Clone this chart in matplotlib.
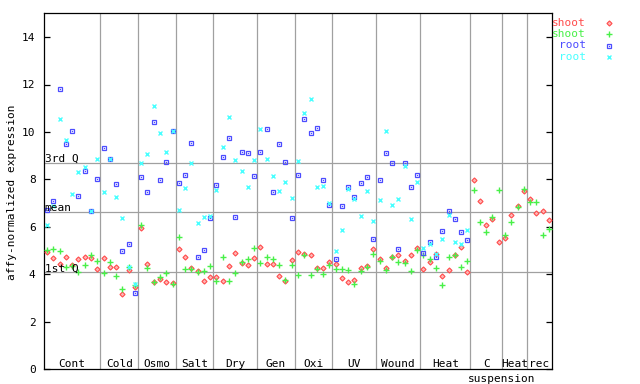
import matplotlib
import numpy as np

matplotlib.use("Agg")
import matplotlib.pyplot as plt
from matplotlib.lines import Line2D

plt.rcParams["font.family"] = ["DejaVu Sans Mono", "DejaVu Sans"]
plt.rcParams["font.size"] = 8

# treatment groups along the x axis (samples per group)
categories = ["Cont", "Cold", "Osmo", "Salt", "Dry", "Gen", "Oxi",
              "UV", "Wound", "Heat", "C", "Heat", "rec"]
counts = [9, 6, 6, 6, 7, 6, 6, 7, 7, 8, 5, 4, 4]

shoot_1 = [4.95, 4.68, 4.44, 4.72, 4.39, 4.65, 4.72, 4.68, 4.22,
           4.68, 4.30, 4.30, 3.16, 4.19, 3.46,
           5.97, 4.43, 3.67, 3.79, 3.67, 3.63,
           5.06, 4.72, 4.26, 4.13, 3.71, 3.88,
           3.88, 3.71, 4.34, 4.89, 4.47, 4.39, 4.68,
           5.15, 4.43, 4.43, 3.92, 3.71, 4.59,
           4.93, 4.85, 4.81, 4.26, 4.26, 4.51,
           4.43, 3.84, 3.67, 3.75, 4.26, 4.34, 5.06,
           4.64, 4.26, 4.72, 4.81, 4.55, 4.81, 5.10,
           4.22, 4.51, 4.85, 3.92, 4.17, 4.81, 5.14, 4.09,
           7.97, 7.09, 6.07, 6.33, 5.36,
           5.52, 6.49, 6.87, 7.51,
           7.17, 6.58, 6.66, 6.28]
shoot_2 = [5.03, 5.06, 4.99, 4.30, 4.36, 4.09, 4.39, 4.81, 4.57,
           4.05, 4.53, 3.92, 3.39, 4.30, 3.55,
           6.09, 4.26, 3.67, 3.88, 4.05, 3.58,
           5.57, 4.22, 4.22, 4.09, 4.13, 4.34,
           3.71, 4.72, 3.71, 4.05, 4.51, 4.64, 5.10,
           4.47, 4.72, 4.64, 4.39, 3.75, 4.38,
           3.96, 4.81, 3.96, 4.22, 4.00, 4.39,
           4.22, 4.22, 4.17, 3.58, 4.13, 4.30, 4.85,
           4.55, 4.17, 4.72, 4.51, 4.47, 4.13, 5.02,
           4.81, 4.64, 4.26, 3.54, 4.72, 4.81, 4.30, 4.55,
           7.55, 6.20, 5.78, 6.41, 7.55,
           5.65, 6.20, 6.83, 7.59,
           7.04, 7.04, 5.65, 5.90]
# root samples stop after the first Heat group
root_1 = [6.72, 7.11, 11.81, 9.49, 10.04, 7.31, 8.35, 6.65, 8.01,
          9.32, 8.88, 7.80, 4.98, 5.27, 3.20,
          8.10, 7.46, 10.42, 7.97, 8.73, 10.04,
          7.84, 8.18, 9.53, 4.72, 5.02, 6.37,
          7.76, 8.94, 9.74, 6.41, 9.15, 9.11, 8.14,
          9.15, 10.12, 7.46, 9.49, 8.73, 6.37,
          8.18, 10.54, 9.95, 10.16, 7.97, 6.92,
          4.64, 6.87, 7.68, 7.25, 7.84, 8.10, 5.48,
          7.97, 9.11, 8.69, 5.06, 8.69, 7.68, 8.18,
          4.89, 5.36, 4.72, 5.82, 6.66, 6.33, 5.78, 5.44]
root_2 = [6.06, 6.90, 10.56, 9.65, 7.38, 8.31, 8.52, 6.65, 8.86,
          7.46, 8.88, 7.25, 6.37, 4.33, 3.60,
          8.69, 9.08, 11.09, 9.95, 9.15, 10.04,
          6.70, 7.63, 8.69, 6.16, 6.41, 6.47,
          7.55, 9.36, 10.63, 8.81, 8.35, 7.68, 8.81,
          10.12, 8.86, 8.14, 7.51, 7.89, 7.21,
          8.77, 10.80, 11.39, 7.68, 7.72, 7.00,
          4.98, 5.86, 7.59, 7.17, 6.45, 7.51, 6.24,
          7.13, 10.04, 6.92, 7.17, 8.56, 6.33, 7.89,
          5.10, 5.27, 4.85, 5.48, 6.49, 5.36, 5.27, 5.86]

q1, mean, q3 = 4.09, 6.62, 8.69

RED, GREEN, BLUE, CYAN = "#ff4c4c", "#48f048", "#4c4cff", "#48ffff"
GRID = "#a0a0a0"

STYLES = {
    "red": [dict(marker="D", ms=2.6, mfc="#ffb4b4", mec=RED, mew=0.8)],
    "green": [dict(marker="+", ms=4.2, mec=GREEN, mew=1.0)],
    "blue": [dict(marker="s", ms=3.1, mfc="none", mec=BLUE, mew=0.9),
             dict(marker="s", ms=0.9, mfc=BLUE, mec="none")],
    "cyan": [dict(marker="x", ms=3.5, mec=CYAN, mew=1.0)],
}

W, H = 640, 384
fig = plt.figure(figsize=(W / 100, H / 100), dpi=100)
L, R, T, B = 44, 552, 13.3, 369.3
ax = fig.add_axes([L / W, 1 - B / H, (R - L) / W, (B - T) / H])

n = sum(counts)
ax.set_xlim(0, n)
ax.set_ylim(0, 15)

bounds = np.cumsum(counts)
for b in bounds[:-1]:
    ax.axvline(b, color=GRID, lw=0.9, zorder=1)
for v, lab in [(q3, "3rd Q"), (mean, "mean"), (q1, "1st Q")]:
    ax.axhline(v, color=GRID, lw=0.9, zorder=1)
    ax.text(0.1, v + 0.04, lab, va="baseline", ha="left", zorder=6)

for name, vals in [("red", shoot_1), ("green", shoot_2),
                   ("blue", root_1), ("cyan", root_2)]:
    x = np.arange(len(vals)) + 0.5
    for st in STYLES[name]:
        ax.plot(x, vals, ls="none", zorder=3, **st)

starts = np.concatenate([[0], bounds[:-1]])
for name, s, c in zip(categories, starts, counts):
    ax.text(s + c / 2, 0.22, name, ha="center", va="center")
ax.text(bounds[-3], -0.39, "suspension", ha="center", va="center", clip_on=False)

ax.set_xticks([])
ax.set_yticks(range(0, 15, 2))
ax.tick_params(axis="y", direction="in", length=4.2, width=0.9,
               right=True, pad=6)
for sp in ax.spines.values():
    sp.set_linewidth(0.9)

fig.text(12 / W, 0.5, "affy-normalized expression", rotation=90,
         ha="center", va="center")

# legend, top right outside the axes
legend_rows = [("shoot", "red", RED), ("shoot", "green", GREEN),
               ("root", "blue", BLUE), ("root", "cyan", CYAN)]
for k, (lab, name, col) in enumerate(legend_rows):
    y = 1 - (23.3 + 11.1 * k) / H
    fig.text(586 / W, y, lab, color=col, ha="right", va="center")
    for st in STYLES[name]:
        fig.add_artist(Line2D([609 / W], [y], ls="none",
                              transform=fig.transFigure, **st))

fig.savefig("out.png", dpi=100)
